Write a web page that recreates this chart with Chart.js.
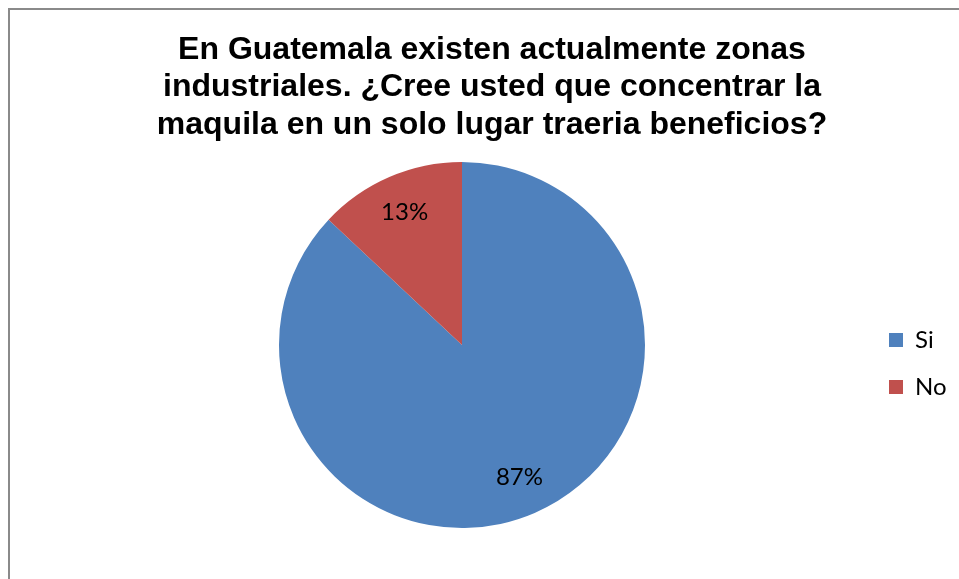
<!DOCTYPE html>
<html>
<head>
<meta charset="utf-8">
<script src="https://cdn.jsdelivr.net/npm/chart.js@4/dist/chart.umd.min.js"></script>
<style>
  html, body { margin: 0; padding: 0; background: #ffffff; }
  #wrap { width: 959px; height: 579px; position: relative; }
</style>
</head>
<body>
<div id="wrap"><canvas id="c" width="959" height="579"></canvas></div>
<script>
const titleLines = [
  'En Guatemala existen actualmente zonas',
  'industriales. ¿Cree usted que concentrar la',
  'maquila en un solo lugar traeria beneficios?'
];
const categories = ['Si', 'No'];
const percentages = [87, 13];
const sliceColors = ['#4F81BD', '#C0504D'];

const frame = {
  id: 'frame',
  beforeDraw(chart) {
    const ctx = chart.ctx;
    ctx.save();
    ctx.fillStyle = '#ffffff';
    ctx.fillRect(0, 0, chart.width, chart.height);
    ctx.strokeStyle = '#8a8a8a';
    ctx.lineWidth = 2;
    ctx.strokeRect(9, 9, 1000, 1000);
    ctx.restore();
  }
};

const sliceLabels = {
  id: 'sliceLabels',
  afterDatasetsDraw(chart) {
    const ctx = chart.ctx;
    const meta = chart.getDatasetMeta(0);
    ctx.save();
    ctx.font = '24px Lato';
    ctx.fillStyle = '#000000';
    ctx.textAlign = 'center';
    ctx.textBaseline = 'middle';
    meta.data.forEach((arc, i) => {
      const p = arc.getProps(['x', 'y', 'startAngle', 'endAngle', 'outerRadius'], true);
      const mid = (p.startAngle + p.endAngle) / 2;
      const d = p.outerRadius * 0.79;
      ctx.fillText(percentages[i] + '%', p.x + Math.cos(mid) * d, p.y + Math.sin(mid) * d);
    });
    ctx.restore();
  }
};

new Chart(document.getElementById('c'), {
  type: 'pie',
  data: {
    labels: categories,
    datasets: [{
      data: percentages,
      backgroundColor: sliceColors,
      borderWidth: 0
    }]
  },
  options: {
    responsive: false,
    animation: false,
    layout: { padding: { left: 35, right: 10, top: 0, bottom: 51 } },
    plugins: {
      tooltip: { enabled: false },
      title: {
        display: true,
        text: titleLines,
        color: '#000000',
        font: { family: "'Liberation Sans', Arial, sans-serif", size: 32, weight: 'bold', lineHeight: 1.171875 },
        padding: { top: 31.25, bottom: 18.25 }
      },
      legend: {
        display: true,
        position: 'right',
        align: 'center',
        maxWidth: 60,
        title: { display: true, text: ' ', color: 'rgba(0,0,0,0)', font: { size: 12, lineHeight: 1.2 }, padding: { top: 207.6, bottom: 0 } },
        labels: {
          boxWidth: 14,
          boxHeight: 14,
          padding: 0,
          color: '#000000',
          font: { family: 'Lato', size: 24, lineHeight: 47 / 24 },
          generateLabels(chart) {
            const items = Chart.overrides.pie.plugins.legend.labels.generateLabels(chart);
            return items.map(it => Object.assign(it, { text: [it.text] }));
          }
        }
      }
    }
  },
  plugins: [frame, sliceLabels]
});
</script>
</body>
</html>
